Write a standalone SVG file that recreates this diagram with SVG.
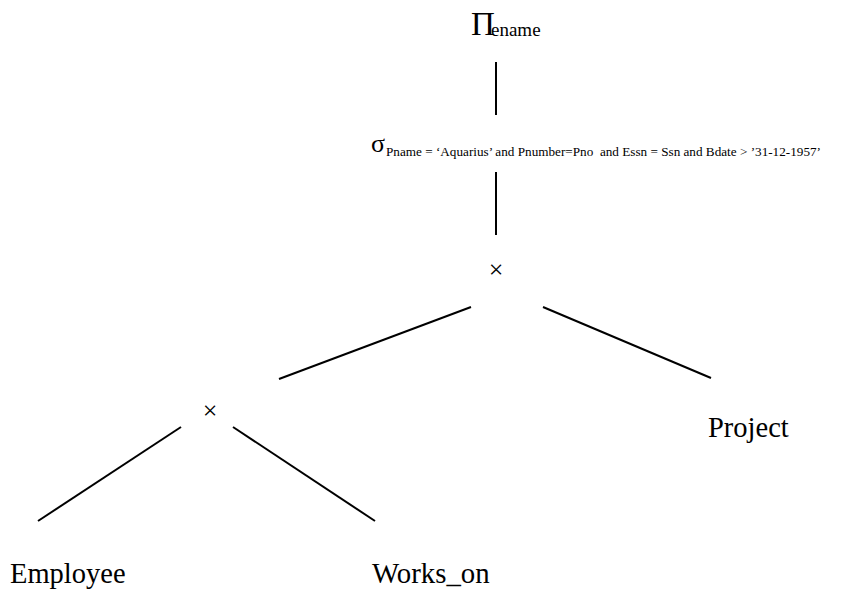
<svg xmlns="http://www.w3.org/2000/svg" width="862" height="592" viewBox="0 0 862 592">
<style>
text{font-family:'Liberation Serif',serif;fill:#000}
line{stroke:#000;stroke-width:2;stroke-linecap:butt}
</style>
<rect width="862" height="592" fill="#fff"/>
<g id="connectors">
<line x1="496" y1="62" x2="496" y2="115"/>
<line x1="496" y1="172" x2="496" y2="235"/>
<line x1="471" y1="307" x2="279" y2="379"/>
<line x1="543" y1="307" x2="711" y2="378"/>
<line x1="181" y1="427" x2="38" y2="521"/>
<line x1="233" y1="427" x2="375" y2="521"/>
</g>
<g font-family="Liberation Serif">
<g id="project-ename">
<text x="471" y="35" font-size="33" font-family="Liberation Serif">Π</text>
<text x="491" y="36" font-size="19" font-family="Liberation Serif">ename</text>
</g>
<g id="select">
<text x="371" y="152" font-size="26" font-family="Liberation Serif">σ</text>
<text x="386" y="156" font-size="13.2" font-family="Liberation Serif" xml:space="preserve">Pname = ‘Aquarius’ and Pnumber=Pno  and Essn = Ssn and Bdate &gt; ’31-12-1957’</text>
</g>
<g id="cross1"><text x="496" y="278" font-size="26" font-family="Liberation Serif" text-anchor="middle">×</text></g>
<g id="cross2"><text x="210" y="419" font-size="26" font-family="Liberation Serif" text-anchor="middle">×</text></g>
<g id="employee"><text x="10" y="583" font-size="28.5" font-family="Liberation Serif">Employee</text></g>
<g id="works_on"><text x="372" y="583" font-size="28.8" font-family="Liberation Serif">Works_on</text></g>
<g id="project"><text x="708" y="437" font-size="28.5" font-family="Liberation Serif">Project</text></g>
</g>
</svg>
